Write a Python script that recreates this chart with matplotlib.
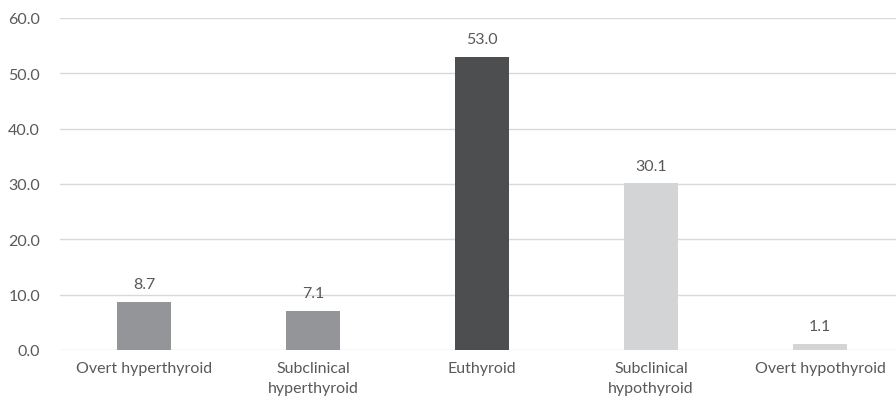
import matplotlib
matplotlib.use("Agg")
import matplotlib.pyplot as plt

categories = ["Overt hyperthyroid", "Subclinical\nhyperthyroid", "Euthyroid",
              "Subclinical\nhypothyroid", "Overt hypothyroid"]
values = [8.7, 7.1, 53.0, 30.1, 1.1]
colors = ["#939598", "#939598", "#4d4e50", "#d3d4d6", "#d3d4d6"]
yticks = [0, 10, 20, 30, 40, 50, 60]

plt.rcParams['font.family'] = ['Lato', 'DejaVu Sans']
text_color = "#595959"
fs = 11.5

fig = plt.figure(figsize=(8.96, 4.06), dpi=100)
ax = fig.add_axes([59.5 / 896, 1 - 351 / 406, (896 - 59.5) / 896, (351 - 19) / 406])

x = list(range(len(categories)))
ax.bar(x, values, width=0.32, color=colors, zorder=3)

for xi, v in zip(x, values):
    ax.text(xi, v + 1.9, f"{v:.1f}", ha="center", va="bottom",
            fontsize=fs, color=text_color)

ax.set_xlim(-0.5, 4.45)
ax.set_ylim(0, 60)
ax.set_yticks(yticks)
ax.set_yticklabels([f"{t:.1f}" for t in yticks], fontsize=fs, color=text_color)
ax.set_xticks(x)
ax.set_xticklabels(categories, fontsize=fs, color=text_color, linespacing=1.5)
ax.tick_params(axis="both", length=0)
ax.tick_params(axis="x", pad=8)
ax.tick_params(axis="y", pad=14)

ax.grid(axis="y", color="#d9d9d9", linewidth=1, zorder=0)
for s in ax.spines.values():
    s.set_visible(False)

fig.savefig("out.png", dpi=100)
